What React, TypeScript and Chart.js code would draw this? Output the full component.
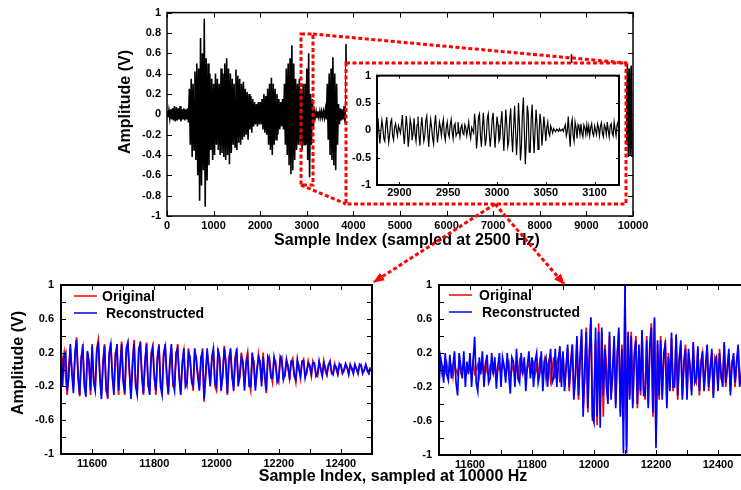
import React, { useEffect, useRef } from 'react';
import { Chart, registerables } from 'chart.js';

Chart.register(...registerables);

const FONT = '"Liberation Sans", Arial, Helvetica, sans-serif';

// ---------- Top panel: full recording, 2500 Hz (min/max envelope per 40-sample bin) ----------
const TOP_BIN = 40;
const TOP_HI = [
  0.03, 0.04, 0.05, 0.06, 0.08, 0.07, 0.06, 0.08, 0.05, 0.06, 0.05, 0.06, 0.25, 0.35, 0.3, 0.42, 0.5, 0.45, 0.75, 0.6, 0.94, 0.55, 0.5, 0.4, 0.35,
  0.3, 0.4, 0.35, 0.3, 0.45, 0.4, 0.5, 0.55, 0.45, 0.4, 0.35, 0.3, 0.44, 0.38, 0.35, 0.3, 0.32, 0.25, 0.22, 0.2, 0.18, 0.15, 0.12, 0.1, 0.12,
  0.12, 0.15, 0.2, 0.18, 0.25, 0.3, 0.36, 0.3, 0.25, 0.2, 0.15, 0.12, 0.15, 0.3, 0.45, 0.5, 0.55, 0.68, 0.5, 0.35, 0.3, 0.35, 0.25, 0.3, 0.3,
  0.45, 0.6, 0.2, 0.15, 0.03, 0.03, 0.03, 0.03, 0.03, 0.03, 0.05, 0.3, 0.4, 0.45, 0.56, 0.4, 0.3, 0.1, 0.06, 0.05, 0.08, 0.69, 0.1, 0.08, 0.08,
  0.1, 0.12, 0.15, 0.2, 0.25, 0.3, 0.25, 0.2, 0.15, 0.12, 0.1, 0.08, 0.1, 0.15, 0.2, 0.3, 0.35, 0.3, 0.25, 0.2, 0.15, 0.1, 0.08, 0.06, 0.05,
  0.05, 0.08, 0.1, 0.15, 0.2, 0.25, 0.3, 0.25, 0.2, 0.15, 0.1, 0.08, 0.06, 0.05, 0.08, 0.12, 0.18, 0.25, 0.3, 0.28, 0.22, 0.15, 0.1, 0.08, 0.05,
  0.05, 0.06, 0.08, 0.1, 0.15, 0.2, 0.28, 0.35, 0.3, 0.25, 0.2, 0.15, 0.1, 0.08, 0.06, 0.05, 0.05, 0.08, 0.12, 0.2, 0.3, 0.35, 0.3, 0.2, 0.12,
  0.08, 0.06, 0.05, 0.05, 0.08, 0.12, 0.18, 0.25, 0.3, 0.25, 0.2, 0.15, 0.1, 0.08, 0.05, 0.05, 0.06, 0.1, 0.15, 0.22, 0.3, 0.25, 0.18, 0.12, 0.08,
  0.06, 0.05, 0.05, 0.08, 0.12, 0.2, 0.28, 0.32, 0.28, 0.2, 0.15, 0.1, 0.08, 0.06, 0.05, 0.1, 0.5, 0.59, 0.5, 0.3, 0.2, 0.15, 0.1, 0.08, 0.06,
  0.05, 0.05, 0.08, 0.12, 0.18, 0.25, 0.3, 0.25, 0.2, 0.15, 0.1, 0.08, 0.06, 0.05, 0.05, 0.08, 0.12, 0.15, 0.2, 0.25, 0.3, 0.3, 0.5, 0.45, 0.48,
];
const TOP_LO = [
  -0.03, -0.04, -0.05, -0.06, -0.07, -0.06, -0.05, -0.07, -0.05, -0.06, -0.05, -0.08, -0.3, -0.42, -0.35, -0.45, -0.6, -0.85, -0.7, -0.55, -0.91, -0.65, -0.5, -0.35, -0.45,
  -0.4, -0.3, -0.35, -0.4, -0.38, -0.42, -0.45, -0.4, -0.49, -0.38, -0.3, -0.32, -0.35, -0.28, -0.3, -0.25, -0.22, -0.2, -0.25, -0.15, -0.18, -0.12, -0.1, -0.12, -0.1,
  -0.1, -0.15, -0.18, -0.2, -0.3, -0.35, -0.4, -0.3, -0.25, -0.2, -0.15, -0.12, -0.15, -0.3, -0.4, -0.5, -0.59, -0.55, -0.45, -0.35, -0.3, -0.3, -0.35, -0.3, -0.3,
  -0.45, -0.62, -0.3, -0.15, -0.03, -0.03, -0.03, -0.03, -0.03, -0.03, -0.05, -0.25, -0.4, -0.45, -0.5, -0.55, -0.3, -0.1, -0.06, -0.05, -0.08, -0.1, -0.1, -0.08, -0.08,
  -0.08, -0.12, -0.18, -0.2, -0.22, -0.3, -0.28, -0.2, -0.12, -0.12, -0.1, -0.06, -0.1, -0.18, -0.22, -0.3, -0.32, -0.3, -0.22, -0.2, -0.12, -0.1, -0.08, -0.05, -0.05,
  -0.06, -0.08, -0.12, -0.15, -0.22, -0.25, -0.28, -0.22, -0.18, -0.15, -0.1, -0.08, -0.05, -0.06, -0.08, -0.12, -0.2, -0.25, -0.28, -0.25, -0.2, -0.15, -0.1, -0.06, -0.05,
  -0.05, -0.06, -0.08, -0.12, -0.15, -0.22, -0.3, -0.35, -0.28, -0.25, -0.18, -0.15, -0.1, -0.08, -0.05, -0.05, -0.06, -0.08, -0.12, -0.2, -0.28, -0.32, -0.3, -0.2, -0.1,
  -0.08, -0.05, -0.05, -0.06, -0.08, -0.12, -0.2, -0.25, -0.28, -0.25, -0.18, -0.15, -0.1, -0.06, -0.05, -0.05, -0.08, -0.1, -0.15, -0.22, -0.28, -0.25, -0.18, -0.1, -0.08,
  -0.05, -0.05, -0.06, -0.08, -0.12, -0.22, -0.28, -0.3, -0.25, -0.2, -0.15, -0.1, -0.08, -0.05, -0.05, -0.1, -0.3, -0.35, -0.3, -0.25, -0.2, -0.12, -0.1, -0.06, -0.05,
  -0.05, -0.06, -0.08, -0.12, -0.2, -0.25, -0.28, -0.22, -0.18, -0.15, -0.1, -0.08, -0.05, -0.05, -0.06, -0.08, -0.12, -0.15, -0.2, -0.25, -0.28, -0.3, -0.42, -0.4, -0.42,
];
const TOP_X_TICKS = [0, 1000, 2000, 3000, 4000, 5000, 6000, 7000, 8000, 9000, 10000];
const TOP_Y_TICKS = [-1, -0.8, -0.6, -0.4, -0.2, 0, 0.2, 0.4, 0.6, 0.8, 1];

// ---------- Inset: samples 2877..3125 ----------
const INSET_START = 2877;
const INSET_VALUES = [
  0.05, 0.22, -0.05, -0.24, 0.0, 0.18, 0.05, -0.15, -0.2, 0.1,
  0.24, -0.02, -0.22, -0.08, 0.15, 0.2, -0.1, -0.18, 0.05, 0.12,
  0.0, -0.1, 0.08, 0.02, -0.05, 0.1, 0.28, -0.05, -0.25, 0.02,
  0.26, 0.05, -0.3, -0.1, 0.2, 0.1, -0.18, -0.05, 0.22, -0.08,
  -0.2, 0.1, 0.25, -0.1, -0.28, 0.05, 0.24, 0.0, -0.2, -0.1,
  0.18, 0.26, -0.05, -0.3, 0.0, 0.2, 0.05, -0.15, -0.25, 0.1,
  0.28, 0.0, -0.22, -0.05, 0.15, 0.05, -0.1, 0.1, 0.2, -0.08,
  -0.18, 0.05, 0.15, -0.05, -0.12, 0.1, 0.2, -0.02, -0.15, 0.08,
  0.12, -0.1, -0.05, 0.15, 0.0, -0.12, 0.05, 0.1, -0.05, -0.08,
  0.1, 0.05, -0.1, 0.02, 0.15, -0.05, -0.15, 0.05, 0.0, -0.05,
  0.3, 0.1, -0.33, -0.1, 0.25, 0.3, -0.1, -0.3, 0.05, 0.32,
  0.0, -0.28, -0.15, 0.22, 0.3, -0.05, -0.3, -0.1, 0.2, 0.32,
  -0.05, -0.32, 0.0, 0.25, 0.1, -0.2, -0.15, 0.15, 0.35, -0.05,
  -0.38, 0.0, 0.38, 0.1, -0.3, -0.2, 0.2, 0.4, -0.1, -0.4,
  0.05, 0.45, 0.0, -0.45, -0.1, 0.5, 0.1, -0.55, -0.3, 0.3,
  0.6, 0.0, -0.62, -0.2, 0.45, 0.3, -0.4, -0.4, 0.2, 0.47,
  -0.05, -0.42, 0.0, 0.38, 0.1, -0.35, -0.1, 0.3, 0.15, -0.28,
  -0.05, 0.25, 0.05, -0.2, 0.05, 0.15, -0.05, -0.1, 0.08, 0.02,
  -0.05, 0.03, 0.0, -0.03, 0.02, 0.01, -0.02, 0.03, -0.01, 0.0,
  0.02, -0.02, 0.05, 0.1, -0.1, -0.02, 0.25, -0.05, -0.3, 0.1,
  0.2, -0.1, -0.2, 0.15, 0.05, -0.15, 0.1, 0.05, -0.08, 0.12,
  -0.05, -0.12, 0.1, 0.05, -0.08, 0.1, -0.05, 0.08, -0.1, 0.05,
  0.12, -0.05, -0.1, 0.08, 0.0, -0.08, 0.12, 0.05, -0.1, 0.08,
  0.14, -0.05, -0.12, 0.1, 0.05, -0.08, 0.15, 0.0, -0.12, 0.08,
  0.12, -0.05, -0.1, 0.15, 0.02, -0.1, 0.1, 0.15, -0.05,
];
const INSET_X_TICKS = [2900, 2950, 3000, 3050, 3100];
const INSET_Y_TICKS = [-1, -0.5, 0, 0.5, 1];

// ---------- Bottom panels: 10000 Hz, samples 11500.., every 5th sample ----------
const ZOOM_START = 11500;
const ZOOM_STEP = 5;
const LEFT_ORIGINAL = [
  -0.25, 0.1, 0.2, -0.1, -0.3, 0.05, 0.25, 0.0, -0.2, 0.15, 0.38, -0.05, -0.32, 0.1, 0.3, -0.15, -0.25, 0.2, 0.05, -0.3,
  0.3, -0.1, -0.2, 0.25, 0.35, -0.05, -0.3, 0.1, 0.3, -0.2, -0.35, 0.15, 0.32, -0.1, -0.25, 0.2, 0.25, -0.3, 0.05, 0.33,
  -0.1, -0.3, 0.2, 0.3, -0.05, -0.32, 0.1, 0.35, -0.15, -0.25, 0.25, 0.3, -0.1, -0.3, 0.05, 0.32, -0.2, -0.25, 0.2, 0.28,
  -0.05, -0.3, 0.1, 0.3, -0.15, -0.25, 0.2, 0.28, -0.1, -0.3, 0.05, 0.25, -0.2, -0.2, 0.15, 0.3, -0.05, -0.28, 0.1, 0.22,
  -0.15, -0.2, 0.25, 0.1, -0.1, -0.25, 0.2, 0.15, -0.05, -0.2, 0.1, 0.25, -0.38, -0.1, 0.2, 0.05, -0.15, 0.1, 0.22, -0.2,
  -0.25, 0.25, 0.1, -0.2, -0.1, 0.28, 0.05, -0.3, 0.15, 0.2, -0.1, -0.2, 0.15, 0.22, -0.15, -0.1, 0.2, 0.05, -0.2, 0.1,
  0.2, -0.15, -0.25, 0.15, 0.1, -0.2, -0.05, 0.18, 0.05, -0.15, 0.2, -0.1, -0.28, 0.1, 0.15, -0.05, -0.15, 0.12, 0.1, -0.1,
  -0.15, 0.12, 0.15, -0.1, -0.08, 0.1, 0.05, -0.12, 0.08, 0.13, -0.05, -0.15, 0.1, 0.05, -0.1, 0.08, 0.12, -0.08, -0.05, 0.1,
  0.02, -0.08, 0.1, 0.05, -0.05, -0.08, 0.08, 0.02, -0.06, 0.1, -0.02, -0.07, 0.06, 0.08, -0.05, -0.03, 0.07, 0.0, -0.06, 0.05,
  0.06, -0.05, -0.02, 0.05, 0.03, -0.05, 0.06, 0.0, -0.04, 0.05, 0.02, -0.05, 0.04, 0.06, -0.03, -0.02, 0.05, 0.01, -0.04, 0.03,
];
const LEFT_RECON = [
  0.25, -0.2, 0.15, 0.2, -0.25, -0.1, 0.3, -0.05, -0.28, 0.2, 0.35, -0.1, -0.3, 0.15, 0.25, -0.2, -0.32, 0.22, 0.1, -0.25,
  0.28, -0.15, -0.25, 0.2, 0.33, -0.1, -0.35, 0.05, 0.28, -0.25, -0.3, 0.2, 0.3, -0.05, -0.3, 0.15, 0.3, -0.25, 0.0, 0.3,
  -0.15, -0.28, 0.25, 0.32, 0.0, -0.35, 0.05, 0.3, -0.2, -0.3, 0.2, 0.33, -0.05, -0.28, 0.1, 0.3, -0.15, -0.3, 0.15, 0.25,
  -0.1, -0.25, 0.15, 0.28, -0.2, -0.3, 0.15, 0.3, -0.05, -0.28, 0.1, 0.3, -0.15, -0.25, 0.2, 0.25, -0.1, -0.3, 0.05, 0.25,
  -0.2, -0.15, 0.2, 0.15, -0.15, -0.2, 0.25, 0.1, -0.1, -0.25, 0.15, 0.2, -0.35, -0.05, 0.25, 0.0, -0.2, 0.15, 0.25, -0.15,
  -0.2, 0.22, 0.15, -0.25, -0.05, 0.25, 0.1, -0.28, 0.1, 0.25, -0.05, -0.25, 0.1, 0.25, -0.2, -0.05, 0.15, 0.1, -0.25, 0.05,
  0.15, -0.2, -0.2, 0.2, 0.05, -0.25, 0.0, 0.15, 0.1, -0.2, 0.15, -0.05, -0.25, 0.15, 0.1, -0.1, -0.1, 0.15, 0.05, -0.15,
  -0.1, 0.15, 0.1, -0.12, -0.05, 0.12, 0.02, -0.1, 0.1, 0.1, -0.08, -0.12, 0.12, 0.0, -0.08, 0.1, 0.1, -0.1, -0.02, 0.08,
  0.05, -0.05, 0.08, 0.08, -0.08, -0.05, 0.1, 0.0, -0.08, 0.08, 0.02, -0.05, 0.05, 0.1, -0.03, -0.06, 0.05, 0.03, -0.05, 0.07,
  0.04, -0.04, 0.0, 0.07, 0.02, -0.06, 0.05, 0.02, -0.05, 0.06, 0.0, -0.04, 0.06, 0.04, -0.05, 0.0, 0.06, -0.02, -0.05, 0.02,
];
const RIGHT_ORIGINAL = [
  0.0, 0.05, -0.05, 0.03, -0.02, 0.08, -0.05, 0.02, 0.05, -0.08, 0.06, 0.0, -0.05, 0.08, -0.03, 0.02, 0.05, -0.06, 0.04, -0.02,
  0.05, -0.05, 0.1, -0.04, 0.0, 0.06, -0.08, 0.03, 0.05, -0.05, 0.08, -0.02, -0.06, 0.05, 0.02, -0.05, 0.1, -0.03, 0.0, 0.05,
  -0.05, 0.08, 0.03, -0.06, 0.05, 0.1, -0.08, 0.0, 0.06, -0.04, 0.05, -0.08, 0.1, 0.02, -0.05, 0.08, -0.06, 0.03, 0.07, -0.05,
  0.02, 0.08, -0.05, 0.05, -0.08, 0.1, 0.0, -0.06, 0.1, -0.1, 0.05, 0.12, -0.12, 0.0, 0.15, -0.1, 0.08, 0.15, -0.15, 0.05,
  0.2, -0.2, 0.0, 0.25, -0.25, 0.1, 0.3, -0.3, -0.1, 0.35, -0.35, 0.1, 0.4, -0.45, -0.1, 0.5, -0.5, 0.15, 0.6, -0.6,
  -0.3, 0.35, -0.65, 0.55, -0.4, 0.45, -0.55, 0.3, 0.1, -0.35, 0.4, -0.3, -0.1, 0.35, -0.4, 0.2, 0.45, -0.5, 0.3, -0.6,
  0.95, -0.9, 0.4, -0.3, 0.45, -0.4, 0.1, 0.4, -0.45, 0.2, -0.3, 0.45, -0.2, -0.35, 0.4, -0.4, 0.3, 0.55, -0.55, 0.6,
  -0.88, 0.3, -0.35, 0.4, -0.3, 0.1, 0.35, -0.4, 0.2, -0.2, 0.38, -0.25, -0.1, 0.4, -0.35, 0.15, 0.3, -0.3, 0.05, 0.3,
  -0.3, 0.2, 0.05, -0.25, 0.3, -0.1, -0.15, 0.25, -0.3, 0.1, 0.2, -0.2, 0.0, 0.28, -0.25, 0.05, 0.2, -0.3, 0.15, 0.1,
  -0.2, 0.25, -0.1, -0.15, 0.3, -0.2, 0.05, 0.2, -0.25, 0.1, 0.15, -0.2, 0.05, 0.25, -0.15, -0.1, 0.2, -0.2, 0.1, 0.05,
];
const RIGHT_RECON = [
  -0.2, 0.15, 0.05, -0.15, 0.2, -0.05, -0.12, 0.18, -0.1, 0.05, 0.22, -0.15, -0.3, 0.2, 0.05, -0.1, 0.22, -0.2, 0.1, -0.05,
  0.2, -0.2, 0.1, 0.39, -0.15, -0.25, 0.15, -0.05, 0.22, -0.2, 0.05, 0.18, -0.15, -0.1, 0.2, -0.05, 0.15, -0.22, 0.05, 0.2,
  -0.2, 0.15, 0.05, -0.15, 0.2, -0.05, -0.28, 0.15, 0.1, -0.2, 0.25, -0.1, -0.15, 0.2, -0.05, 0.15, -0.25, 0.05, 0.22, -0.1,
  0.15, -0.2, 0.1, 0.2, -0.15, -0.05, 0.22, -0.25, 0.1, 0.15, -0.2, 0.05, 0.25, -0.15, -0.1, 0.25, -0.2, 0.1, 0.28, -0.2,
  0.22, -0.25, 0.05, 0.3, -0.2, 0.05, 0.3, -0.35, -0.05, 0.4, -0.3, 0.15, 0.48, -0.55, 0.0, 0.45, -0.45, 0.2, 0.62, -0.55,
  -0.62, 0.5, -0.55, 0.45, -0.68, 0.5, -0.3, 0.25, -0.2, -0.4, 0.45, -0.35, 0.0, 0.4, -0.45, 0.15, 0.5, -0.55, 0.25, -0.98,
  1.0, -0.98, 0.45, -0.35, 0.4, -0.45, 0.2, 0.35, -0.4, 0.3, -0.25, 0.47, -0.3, -0.3, 0.35, -0.45, 0.25, 0.5, -0.5, 0.62,
  -0.92, 0.35, -0.3, 0.35, -0.35, 0.2, 0.3, -0.45, 0.15, -0.25, 0.44, -0.2, -0.2, 0.42, -0.3, 0.1, 0.35, -0.35, 0.1, 0.25,
  -0.35, 0.25, 0.0, -0.3, 0.33, -0.15, -0.1, 0.28, -0.25, 0.05, 0.22, -0.25, 0.05, 0.3, -0.2, 0.0, 0.25, -0.33, 0.1, 0.15,
  -0.25, 0.2, -0.05, -0.2, 0.33, -0.15, 0.0, 0.25, -0.3, 0.05, 0.2, -0.15, 0.1, 0.3, -0.2, -0.05, 0.25, -0.25, 0.05, 0.1,
];
const ZOOM_X_TICKS = [11500, 11600, 11700, 11800, 11900, 12000, 12100, 12200, 12300, 12400, 12500];
const ZOOM_X_LABELED = [11600, 11800, 12000, 12200, 12400];
const ZOOM_Y_TICKS = [-1, -0.8, -0.6, -0.4, -0.2, 0, 0.2, 0.4, 0.6, 0.8, 1];
const ZOOM_Y_LABELED = [-1, -0.6, -0.2, 0.2, 0.6, 1];

const SERIES_NAMES = ['Original', 'Reconstructed'];

// ---------- helpers ----------
const fmt = (v: number) => {
  const r = Math.round(v * 10) / 10;
  return r === 0 ? '0' : String(r);
};
const tickFont = { family: FONT, size: 11, weight: 'bold' as const };
const has = (arr: number[], v: number) => arr.some((a) => Math.abs(a - v) < 1e-6);

const framePlugin = {
  id: 'frame',
  afterDraw(chart: any, _a: any, o: any) {
    const { ctx, chartArea: a, scales } = chart;
    const tl = o.tickLen ?? 5;
    ctx.save();
    ctx.strokeStyle = '#000';
    ctx.lineWidth = 1;
    const seg = (x1: number, y1: number, x2: number, y2: number) => {
      ctx.beginPath();
      ctx.moveTo(x1, y1);
      ctx.lineTo(x2, y2);
      ctx.stroke();
    };
    scales.x.ticks.forEach((t: any) => {
      const p = Math.round(scales.x.getPixelForValue(t.value)) + 0.5;
      seg(p, a.bottom, p, a.bottom - tl);
      seg(p, a.top, p, a.top + tl);
    });
    scales.y.ticks.forEach((t: any) => {
      const p = Math.round(scales.y.getPixelForValue(t.value)) + 0.5;
      seg(a.left, p, a.left + tl, p);
      seg(a.right, p, a.right - tl, p);
    });
    ctx.lineWidth = o.lineWidth ?? 2;
    ctx.strokeRect(a.left, a.top, a.right - a.left, a.bottom - a.top);
    ctx.restore();
  },
};

const legendPlugin = {
  id: 'inlegend',
  afterDraw(chart: any, _a: any, o: any) {
    if (!o || !o.show) return;
    const { ctx, chartArea: a } = chart;
    ctx.save();
    ctx.font = `bold 14px ${FONT}`;
    ctx.textBaseline = 'middle';
    ctx.textAlign = 'left';
    chart.data.datasets.forEach((ds: any, i: number) => {
      const y = a.top + o.ly + i * o.gap;
      const x0 = a.left + o.lx;
      ctx.strokeStyle = ds.borderColor;
      ctx.lineWidth = 1.5;
      ctx.beginPath();
      ctx.moveTo(x0, y);
      ctx.lineTo(x0 + o.len, y);
      ctx.stroke();
      ctx.fillStyle = '#000';
      ctx.fillText(ds.label, x0 + o.len + o.tx[i], y + 1);
    });
    ctx.restore();
  },
};

function axis(min: number, max: number, tickVals: number[], labeled: number[], size: number, pad: number, vertical: boolean) {
  return {
    type: 'linear' as const,
    min,
    max,
    afterBuildTicks: (s: any) => {
      s.ticks = tickVals.map((v) => ({ value: v }));
    },
    ticks: {
      autoSkip: false,
      maxRotation: 0,
      padding: pad,
      color: '#000',
      font: tickFont,
      callback: (v: any) => (has(labeled, Number(v)) ? (vertical ? fmt(Number(v)) : String(v)) : ''),
    },
    grid: { display: false, drawTicks: false },
    border: { display: false },
    afterFit: (s: any) => {
      if (vertical) s.width = size;
      else s.height = size;
    },
  };
}

function ChartCanvas({ config, style, width, height }: any) {
  const ref = useRef<HTMLCanvasElement | null>(null);
  useEffect(() => {
    const c = new Chart(ref.current as HTMLCanvasElement, config());
    return () => c.destroy();
  }, []);
  return <canvas ref={ref} width={width} height={height} style={{ position: 'absolute', ...style }} />;
}

const baseOpts = {
  responsive: false,
  animation: false as const,
  events: [] as any[],
};

const topConfig = () => ({
  type: 'line' as const,
  data: {
    datasets: [
      {
        data: TOP_HI.flatMap((h, i) => [
          { x: i * TOP_BIN, y: h },
          { x: i * TOP_BIN + TOP_BIN / 2, y: TOP_LO[i] },
        ]),
        borderColor: '#000',
        borderWidth: 1.6,
        pointRadius: 0,
        tension: 0,
      },
    ],
  },
  options: {
    ...baseOpts,
    layout: { padding: { left: 0, right: 108, top: 6, bottom: 0 } },
    scales: {
      x: axis(0, 10000, TOP_X_TICKS, TOP_X_TICKS, 16, 3, false),
      y: axis(-1, 1, TOP_Y_TICKS, TOP_Y_TICKS, 167, 6, true),
    },
    plugins: { legend: { display: false }, tooltip: { enabled: false }, frame: { lineWidth: 1.5, tickLen: 5 } },
  },
  plugins: [framePlugin],
});

const insetConfig = () => ({
  type: 'line' as const,
  data: {
    datasets: [
      {
        data: INSET_VALUES.map((v, i) => ({ x: INSET_START + i, y: v })),
        borderColor: '#000',
        borderWidth: 1.2,
        pointRadius: 0,
        tension: 0,
      },
    ],
  },
  options: {
    ...baseOpts,
    layout: { padding: { left: 0, right: 7, top: 7, bottom: 0 } },
    scales: {
      x: axis(INSET_START, INSET_START + INSET_VALUES.length - 1, INSET_X_TICKS, INSET_X_TICKS, 19, 1, false),
      y: axis(-1, 1, INSET_Y_TICKS, INSET_Y_TICKS, 31, 6, true),
    },
    plugins: { legend: { display: false }, tooltip: { enabled: false }, frame: { lineWidth: 2, tickLen: 3 } },
  },
  plugins: [framePlugin],
});

const zoomConfig = (orig: number[], recon: number[], yWidth: number, padRight: number, xHeight: number, leg: any) => () => ({
  type: 'line' as const,
  data: {
    datasets: [
      {
        label: SERIES_NAMES[0],
        data: orig.map((v, i) => ({ x: ZOOM_START + i * ZOOM_STEP, y: v })),
        borderColor: '#ff0000',
        borderWidth: 1.7,
        pointRadius: 0,
        tension: 0,
        order: 1,
      },
      {
        label: SERIES_NAMES[1],
        data: recon.map((v, i) => ({ x: ZOOM_START + i * ZOOM_STEP, y: v })),
        borderColor: '#0000ff',
        borderWidth: 1.7,
        pointRadius: 0,
        tension: 0,
        order: 0,
      },
    ],
  },
  options: {
    ...baseOpts,
    layout: { padding: { left: 0, right: padRight, top: 15, bottom: 0 } },
    scales: {
      x: axis(11500, 12500, ZOOM_X_TICKS, ZOOM_X_LABELED, xHeight, 3, false),
      y: axis(-1, 1, ZOOM_Y_TICKS, ZOOM_Y_LABELED, yWidth, 7, true),
    },
    plugins: {
      legend: { display: false },
      tooltip: { enabled: false },
      frame: { lineWidth: 2, tickLen: 5 },
      inlegend: leg,
    },
  },
  plugins: [framePlugin, legendPlugin],
});

function Label({ text, x, y, rotate }: { text: string; x: number; y: number; rotate?: boolean }) {
  return (
    <div
      style={{
        position: 'absolute',
        left: x,
        top: y,
        transform: `translate(-50%, -50%)${rotate ? ' rotate(-90deg)' : ''}`,
        whiteSpace: 'nowrap',
        font: `bold 16px ${FONT}`,
        color: '#000',
      }}
    >
      {text}
    </div>
  );
}

export default function App() {
  return (
    <div
      style={{
        position: 'fixed',
        left: 0,
        top: 0,
        width: 741,
        height: 490,
        overflow: 'hidden',
        background: '#fff',
      }}
    >
      <ChartCanvas config={topConfig} width={741} height={232} style={{ left: 0, top: 0 }} />
      <ChartCanvas config={insetConfig} width={280} height={141} style={{ left: 346, top: 63, background: '#fff' }} />
      <ChartCanvas
        config={zoomConfig(LEFT_ORIGINAL, LEFT_RECON, 61, 8, 36, { show: true, lx: 13, ly: 11, gap: 17, len: 23, tx: [5, 9] })}
        width={380}
        height={220}
        style={{ left: 0, top: 270 }}
      />
      <ChartCanvas
        config={zoomConfig(RIGHT_ORIGINAL, RIGHT_RECON, 59, 6, 35, { show: true, lx: 10, ly: 10, gap: 17, len: 23, tx: [7, 10] })}
        width={375}
        height={220}
        style={{ left: 380, top: 270 }}
      />
      <Label text="Amplitude (V)" x={125} y={102} rotate />
      <Label text="Sample Index (sampled at 2500 Hz)" x={407} y={239.5} />
      <Label text="Amplitude (V)" x={17.5} y={362.5} rotate />
      <Label text="Sample Index, sampled at 10000 Hz" x={393} y={476} />
      <svg width={741} height={490} style={{ position: 'absolute', left: 0, top: 0, pointerEvents: 'none' }}>
        <defs>
          <marker id="ah" markerUnits="userSpaceOnUse" markerWidth="11" markerHeight="9" refX="10" refY="4.5" orient="auto">
            <path d="M0,0 L11,4.5 L0,9 z" fill="#f00" />
          </marker>
        </defs>
        <g stroke="#f00" strokeWidth={3} strokeDasharray="4 2.5" fill="none">
          <rect x={301} y={34} width={12} height={151} />
          <rect x={346} y={63} width={280} height={141} />
          <line x1={313} y1={34} x2={626} y2={63} />
          <line x1={301} y1={185} x2={346} y2={204} />
          <line x1={495} y1={204} x2={374} y2={282} markerEnd="url(#ah)" />
          <line x1={495} y1={204} x2={564} y2={284} markerEnd="url(#ah)" />
        </g>
      </svg>
    </div>
  );
}
